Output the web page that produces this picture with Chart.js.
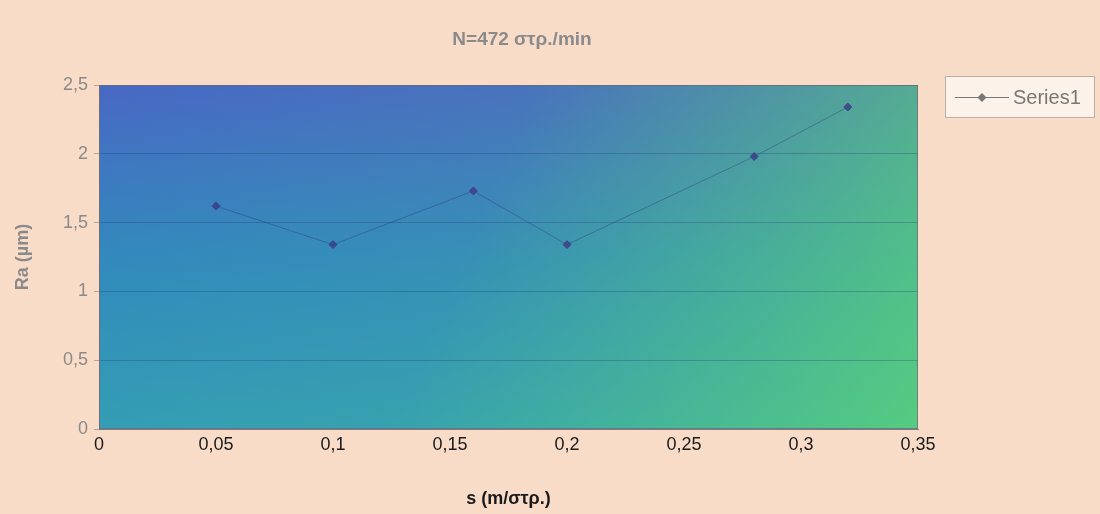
<!DOCTYPE html>
<html>
<head>
<meta charset="utf-8">
<script src="https://cdn.jsdelivr.net/npm/chart.js@4.4.1/dist/chart.umd.min.js"></script>
<style>
  html, body { margin: 0; padding: 0; background: #f8dcc8; }
  #wrap { width: 1100px; height: 514px; }
</style>
</head>
<body>
<div id="wrap"><canvas id="myChart" width="1100" height="514"></canvas></div>
<script>
// feed s (m/rev) vs surface roughness Ra (um)
const feeds = [0.05, 0.1, 0.16, 0.2, 0.28, 0.32];
const roughness = [1.62, 1.34, 1.73, 1.34, 1.98, 2.34];
const seriesName = "Series1";
const chartTitle = "N=472 στρ./min";
const xTitle = "s (m/στρ.)";
const yTitle = "Ra (µm)";

const FONT = "'Liberation Sans', Arial, sans-serif";
const fmt = v => Number(v.toFixed(2)).toString().replace(".", ",");

// gradient fill behind the plot + title and legend box
const decor = {
  id: "decor",
  beforeDraw: c => {
    const { ctx, chartArea: a } = c;
    ctx.save();
    let g = ctx.createLinearGradient(0, a.top, 0, a.bottom);
    g.addColorStop(0, "rgb(72,104,196)");
    g.addColorStop(0.5, "rgb(50,136,190)");
    g.addColorStop(1, "rgb(50,156,182)");
    ctx.fillStyle = g;
    ctx.fillRect(a.left, a.top, a.width, a.height);
    g = ctx.createLinearGradient(a.left, a.top, a.right, a.bottom);
    g.addColorStop(0, "rgba(90,210,120,0)");
    g.addColorStop(0.45, "rgba(90,210,120,0.1)");
    g.addColorStop(1, "rgba(95,215,115,0.8)");
    ctx.fillStyle = g;
    ctx.fillRect(a.left, a.top, a.width, a.height);
    ctx.restore();
  },
  afterDraw: c => {
    const { ctx, chartArea: a } = c;
    ctx.save();
    ctx.strokeStyle = "rgba(110,110,120,0.8)";
    ctx.lineWidth = 1;
    ctx.strokeRect(a.left + 0.5, a.top + 0.5, a.width - 1, a.height - 1);

    ctx.fillStyle = "#8a8a8a";
    ctx.font = "bold 19px " + FONT;
    ctx.textAlign = "center";
    ctx.textBaseline = "middle";
    ctx.fillText(chartTitle, 522, 40);

    // legend
    ctx.fillStyle = "rgba(252,244,236,0.9)";
    ctx.fillRect(945, 76, 150, 42);
    ctx.strokeStyle = "#b8b0a8";
    ctx.strokeRect(945.5, 76.5, 149, 41);
    ctx.strokeStyle = "#777";
    ctx.beginPath();
    ctx.moveTo(955, 97.5);
    ctx.lineTo(1009, 97.5);
    ctx.stroke();
    ctx.fillStyle = "#777";
    ctx.beginPath();
    ctx.moveTo(982, 93); ctx.lineTo(986.5, 97.5); ctx.lineTo(982, 102); ctx.lineTo(977.5, 97.5);
    ctx.closePath();
    ctx.fill();
    ctx.font = "20px " + FONT;
    ctx.textAlign = "left";
    ctx.fillText(seriesName, 1013, 98);
    ctx.restore();
  }
};

new Chart(document.getElementById("myChart"), {
  type: "scatter",
  data: {
    datasets: [{
      label: seriesName,
      data: feeds.map((s, i) => ({ x: s, y: roughness[i] })),
      showLine: true,
      borderColor: "rgba(45,50,120,0.4)",
      borderWidth: 1,
      pointStyle: "rectRot",
      pointRadius: 4,
      pointBackgroundColor: "rgba(60,55,130,0.75)",
      pointBorderColor: "rgba(60,55,130,0.75)",
    }]
  },
  options: {
    responsive: false,
    animation: false,
    layout: { padding: { top: 85, right: 182, left: 0, bottom: 0 } },
    plugins: { legend: { display: false }, tooltip: { enabled: false } },
    scales: {
      x: {
        type: "linear",
        min: 0, max: 0.35,
        afterFit: s => { s.height = 85; },
        ticks: { stepSize: 0.05, callback: fmt, color: "#1a1a1a", padding: 0,
          font: { size: 18, family: FONT }, maxRotation: 0 },
        grid: { display: false, drawTicks: true, tickLength: 5 },
        border: { color: "rgba(110,110,120,0.8)" },
        title: { display: true, text: xTitle, color: "#1a1a1a", padding: { top: 8 },
          font: { size: 18, weight: "bold", family: FONT } }
      },
      y: {
        min: 0, max: 2.5,
        afterFit: s => { s.width = 99; },
        ticks: { stepSize: 0.5, callback: fmt, color: "#8a8a8a", padding: 6,
          font: { size: 18, family: FONT } },
        grid: { color: "rgba(30,60,110,0.3)", tickLength: 5, tickColor: "rgba(130,130,130,0.6)" },
        border: { color: "rgba(110,110,120,0.8)" },
        title: { display: true, text: yTitle, color: "#8a8a8a", padding: { top: 12, bottom: 4 },
          font: { size: 18, weight: "bold", family: FONT } }
      }
    }
  },
  plugins: [decor]
});
</script>
</body>
</html>
